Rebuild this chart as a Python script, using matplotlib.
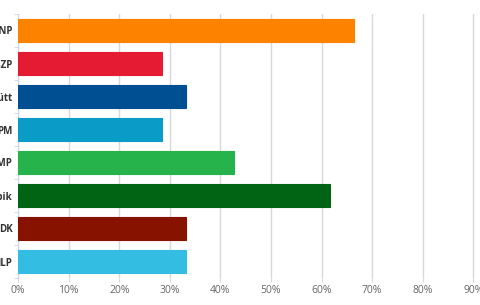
import matplotlib.pyplot as plt

# party share
parties = ["Fidesz-KDNP", "MSZP", "Együtt", "PM", "LMP", "Jobbik", "DK", "MLP"]
shares = [66.4, 28.5, 33.3, 28.5, 42.7, 61.7, 33.3, 33.3]
colors = ["#fd8200", "#e41b32", "#004f93", "#0a9bc7", "#27b34b", "#006414", "#871200", "#33bde2"]
ticks = [0, 10, 20, 30, 40, 50, 60, 70, 80, 90, 100]
tick_labels = [f"{t}%" for t in ticks]

plt.rcParams["font.family"] = ["Open Sans", "DejaVu Sans"]

fig = plt.figure(figsize=(4.8, 3.05), dpi=100)
# axes run past the right edge of the picture, like the clipped original
ax = fig.add_axes([18 / 480, 27 / 305, 506 / 480, 264 / 305])

ypos = list(range(len(parties)))
ax.barh(ypos, shares, height=0.7, color=colors, edgecolor=colors,
        linewidth=0.8, zorder=3)

ax.set_xlim(0, 100)
ax.set_ylim(len(parties) - 0.5, -0.5)

ax.set_xticks(ticks)
ax.set_xticklabels(tick_labels, fontsize=7.5, color="#666666")
ax.grid(axis="x", color="#d8d8d8", linewidth=1, zorder=0)
ax.tick_params(axis="x", length=3, color="#d8d8d8", pad=2)

ax.set_yticks(ypos)
ax.set_yticklabels(parties, fontsize=7, color="#333333", fontweight="bold")
ax.set_yticks([i - 0.5 for i in range(len(parties) + 1)], minor=True)
ax.tick_params(axis="y", which="major", length=0, pad=4)
ax.tick_params(axis="y", which="minor", length=3, color="#ccd6eb")

for side in ["top", "right", "bottom"]:
    ax.spines[side].set_visible(False)
ax.spines["left"].set_color("#ccd6eb")

fig.savefig("out.png", dpi=100)
